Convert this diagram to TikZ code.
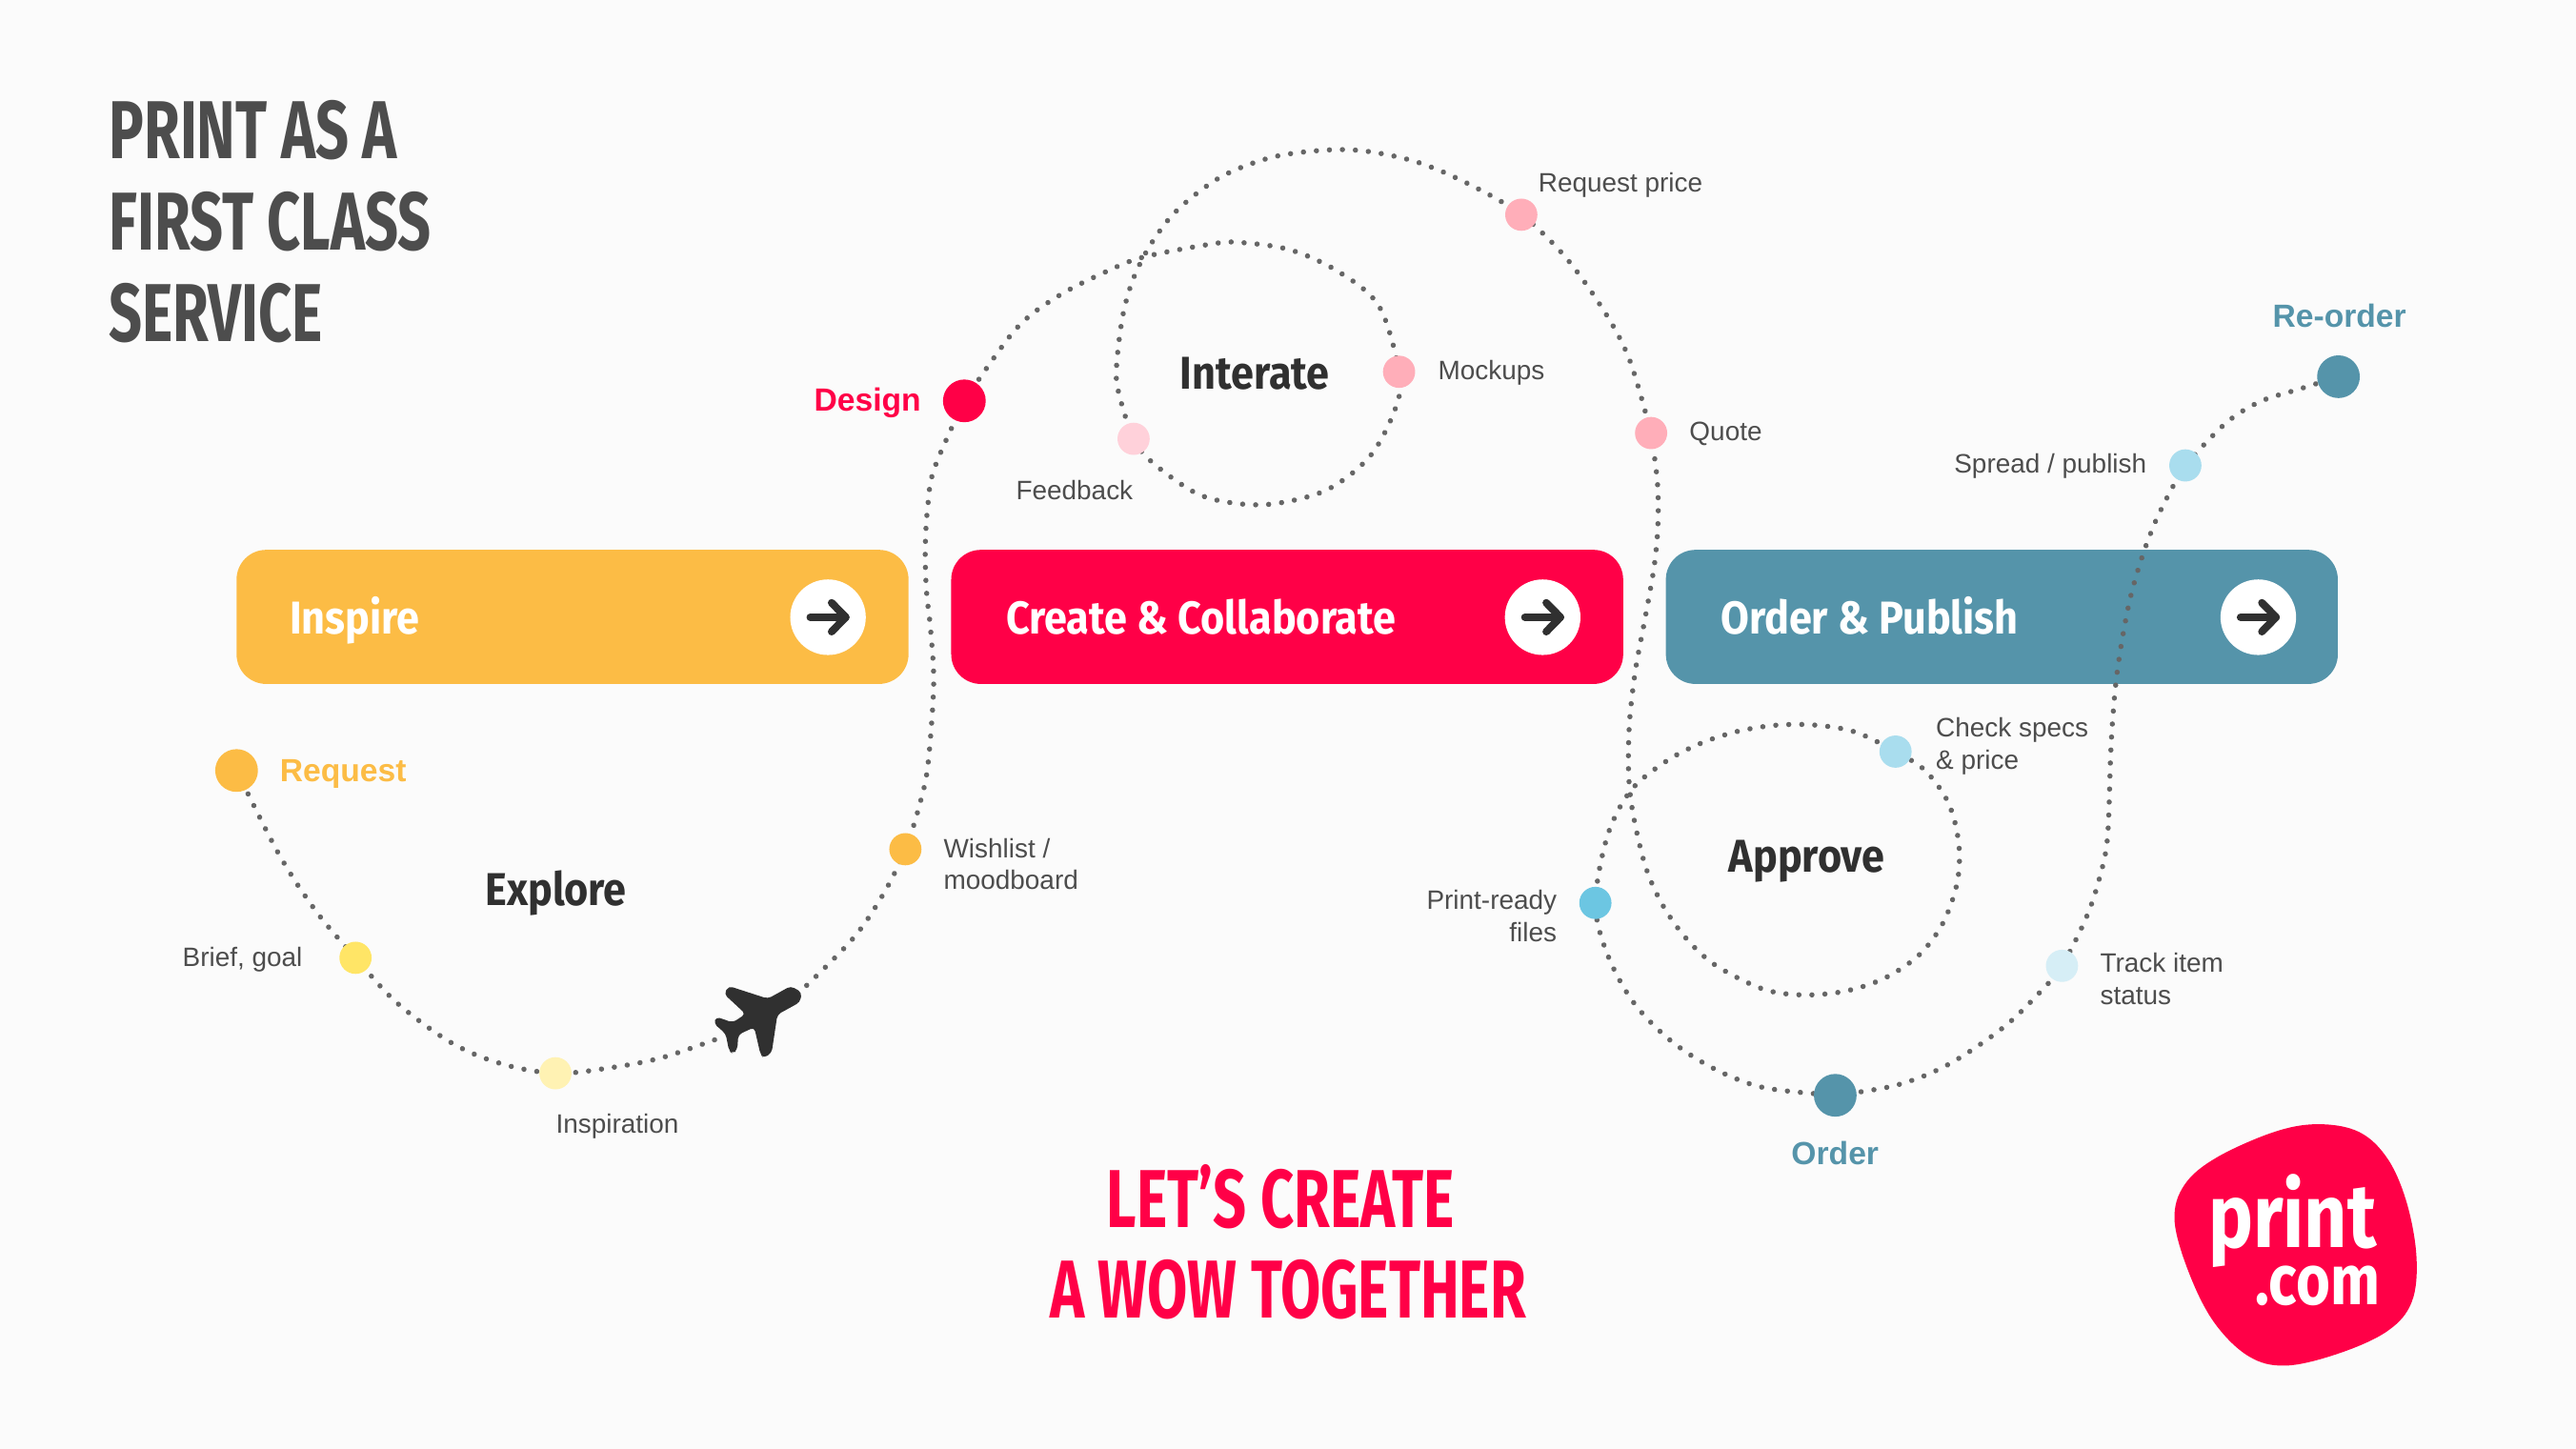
\documentclass[tikz,border=0pt]{standalone}
\usepackage{fontspec}
\usepackage{xcolor}
\usepackage{tikz}
\usetikzlibrary{backgrounds}
\setmainfont{Liberation Sans}
\newfontfamily\headfont[FakeStretch=0.895]{Fira Sans}
\newfontfamily\condfont[FakeStretch=0.71]{Fira Sans}
\newfontfamily\logofont[FakeStretch=0.83]{Fira Sans}
\definecolor{paper}{HTML}{FBFBFB}
\definecolor{inspirecol}{HTML}{FCBC45}
\definecolor{briefcol}{HTML}{FFE566}
\definecolor{ideacol}{HTML}{FFF2B3}
\definecolor{createcol}{HTML}{FF0047}
\definecolor{mockcol}{HTML}{FFAEB9}
\definecolor{feedcol}{HTML}{FFD1DA}
\definecolor{ordercol}{HTML}{5594AA}
\definecolor{specscol}{HTML}{A9DDEE}
\definecolor{filescol}{HTML}{6CC6E2}
\definecolor{trackcol}{HTML}{D6EEF6}
\definecolor{inkcol}{HTML}{303030}
\definecolor{labelcol}{HTML}{4D4D4D}
\definecolor{routecol}{HTML}{666666}
\tikzset{
    bigdot/.style={circle, inner sep=0pt, minimum size=13pt},
    smalldot/.style={circle, inner sep=0pt, minimum size=9.8pt},
    route/.style={routecol, line width=1.6pt, line cap=round, dash pattern=on 0.01pt off 3.95pt},
    phasebox/.style={rectangle, rounded corners=9pt, minimum width=204.5pt, minimum height=40.8pt, inner sep=0pt},
    phasename/.style={anchor=base west, inner sep=0pt, text=white, font=\headfont\bfseries\fontsize{14}{16}\selectfont},
    gobutton/.style={circle, fill=white, inner sep=0pt, minimum size=23pt},
    goarrow/.style={inkcol, line width=2.3pt, line cap=round, line join=round},
    smalltext/.style={inner sep=0pt, text=labelcol, align=left, font=\fontsize{8.1}{9.75}\selectfont},
    stagetext/.style={inner sep=0pt, font=\bfseries\fontsize{9.75}{12}\selectfont},
    looptext/.style={anchor=base west, inner sep=0pt, text=inkcol, font=\headfont\bfseries\fontsize{14}{16}\selectfont},
    bigtext/.style={inner sep=0pt, font=\condfont\bfseries\fontsize{25}{28}\selectfont},
}

\begin{document}
\begin{tikzpicture}[x=0.5pt, y=-0.5pt]
    \useasboundingbox (0,0) rectangle (1568,882);

    % route stops
    \node[bigdot, fill=inspirecol] (request) at (144,469) {};
    \node[smalldot, fill=briefcol] (brief) at (216.4,583) {};
    \node[smalldot, fill=ideacol] (inspiration) at (338.1,653.3) {};
    \node[smalldot, fill=inspirecol] (wishlist) at (551.1,516.9) {};
    \node[bigdot, fill=createcol] (design) at (587,244) {};
    \node[smalldot, fill=mockcol] (mockups) at (851.6,226.3) {};
    \node[smalldot, fill=feedcol] (feedback) at (690,267.1) {};
    \node[smalldot, fill=mockcol] (reqprice) at (926,130.7) {};
    \node[smalldot, fill=mockcol] (quote) at (1005,263.6) {};
    \node[smalldot, fill=specscol] (specs) at (1153.8,457.5) {};
    \node[smalldot, fill=filescol] (printready) at (971.1,549.6) {};
    \node[bigdot, fill=ordercol] (order) at (1117.1,666.7) {};
    \node[smalldot, fill=trackcol] (track) at (1255.1,587.9) {};
    \node[smalldot, fill=specscol] (spread) at (1330.2,283.3) {};
    \node[bigdot, fill=ordercol] (reorder) at (1423.4,229.3) {};
    \coordinate (planein) at (441.7,630.5);
    \coordinate (planeout) at (491,599.8);

    \begin{scope}[on background layer]
        \fill[paper] (0,0) rectangle (1568,882);
        \node[phasebox, fill=inspirecol] (inspire) at (348.5,375.5) {};
        \node[phasebox, fill=createcol] (create) at (783.5,375.5) {};
        \node[phasebox, fill=ordercol] (publish) at (1218.5,375.5) {};
        % dotted flight path
        \draw[route] plot[smooth, tension=0.55] coordinates {(request) (169.8,520) (192.4,554.7) (brief) (241.6,610.4) (274.9,634.8) (305.2,647.5) (inspiration) (371,650) (403.2,643.7) (planein)};
        \draw[route] plot[smooth, tension=0.55] coordinates {(planeout) (519.6,570.8) (538.1,543.5) (wishlist) (559.6,490.4) (564.8,465.8) (568.3,417.1) (566.5,383.8) (563.9,359.4) (563.2,333.9) (564.6,309.5) (568.7,285.1) (design)};
        \draw[route] plot[smooth, tension=0.55] coordinates {(design) (617.9,200.8) (643.8,180.4) (673.4,165.3) (696.3,156.4) (737,148.6) (753.6,147.5) (785,152) (814.6,165.3) (839.4,186.4) (mockups) (849.8,247.4) (834.2,277.3) (808,298) (775.8,306.6) (750.7,306.2) (727.7,300) (701.8,281.8) (feedback) (680.8,238.5) (679.7,221.8) (683.7,190.8) (690.7,167.5) (702.2,146) (717.4,127.1) (743.3,107.6) (774,95.8) (806.1,91.4) (831.3,92) (862.7,98.7) (894,112) (reqprice) (953.3,157) (977.3,190.8) (992.1,219.6) (quote)};
        \draw[route] plot[smooth, tension=0.55] coordinates {(quote) (1008.8,292.9) (1009.2,318.4) (1007,343.9) (1001.4,376) (995.5,407.8) (991.8,440.6) (991.4,472.5) (994.4,497.4) (1001.8,528) (1012.1,551) (1026.2,571) (1044.3,587.6) (1073.1,602) (1097.2,605.6) (1122.7,603.4) (1146.7,595.6) (1168.2,581.2) (1183,561.2) (1191.5,536.3) (1192.2,512.7) (1185.9,488.6) (1171.9,469.1) (specs) (1129.3,445.6) (1105.3,441.4) (1081.3,441.4) (1057.2,445.3) (1033.9,453) (1012.9,464.2) (992.5,481.4) (978.5,508.5) (printready) (978.1,580.1) (993.6,609.2) (1015.8,632.5) (1042.4,650) (1073.1,661.9) (order)};
        \draw[route] plot[smooth, tension=0.55] coordinates {(order) (1154.1,660.6) (1185.6,648.1) (1219.9,625) (1244,601.5) (track) (1269.9,558.5) (1278,534.3) (1282.8,509.9) (1284.7,460.4) (1286.1,436) (1288.4,411.5) (1292.1,387.1) (1296.9,363.1) (1303.7,339.5) (1312.4,316.5) (1323.4,294.7) (spread) (1354.9,257.5) (1375.8,244.4) (1399,237) (reorder)};
    \end{scope}

    % phase bars
    \node[phasename] (inspirename) at (176,386) {Inspire};
    \node[phasename] (createname) at (612,386) {Create \& Collaborate};
    \node[phasename] (publishname) at (1047,386) {Order \& Publish};
    \node[gobutton] (inspirego) at (504,375.7) {};
    \node[gobutton] (creatego) at (939,375.7) {};
    \node[gobutton] (publishgo) at (1374.6,375.7) {};
    \draw[goarrow] ([xshift=-5.4pt]inspirego.center) -- ([xshift=5.4pt]inspirego.center);
    \draw[goarrow] ([xshift=1.1pt,yshift=4.4pt]inspirego.center) -- ([xshift=5.4pt]inspirego.center) -- ([xshift=1.1pt,yshift=-4.4pt]inspirego.center);
    \draw[goarrow] ([xshift=-5.4pt]creatego.center) -- ([xshift=5.4pt]creatego.center);
    \draw[goarrow] ([xshift=1.1pt,yshift=4.4pt]creatego.center) -- ([xshift=5.4pt]creatego.center) -- ([xshift=1.1pt,yshift=-4.4pt]creatego.center);
    \draw[goarrow] ([xshift=-5.4pt]publishgo.center) -- ([xshift=5.4pt]publishgo.center);
    \draw[goarrow] ([xshift=1.1pt,yshift=4.4pt]publishgo.center) -- ([xshift=5.4pt]publishgo.center) -- ([xshift=1.1pt,yshift=-4.4pt]publishgo.center);

    % plane
    \fill[inkcol, rounded corners=1.2pt] (481.3,600.2) -- (488,604) -- (487,610) -- (473.2,617.6) -- (469.7,640.8) -- (464.9,644.1) -- (462.9,641.8) -- (459.1,625.3) -- (449.4,629.8) -- (448.8,638.9) -- (446.1,641.4) -- (443.8,639.8) -- (441.7,629.2) -- (434.5,623) -- (435.9,618.9) -- (446.1,622.4) -- (453.8,617.2) -- (440.7,605) -- (443.6,600.2) -- (467.4,607.9) -- cycle;

    % stage names
    \node[stagetext, anchor=base west, text=inspirecol] (requestname) at (170,475.5) {Request};
    \node[stagetext, anchor=base east, text=createcol] (designname) at (561,250.5) {Design};
    \node[stagetext, anchor=base, text=ordercol] (ordername) at (1117,709) {Order};
    \node[stagetext, anchor=base, text=ordercol] (reordername) at (1424,199) {Re-order};

    % small labels
    \node[smalltext, anchor=base east] (brieflabel) at (184.5,588) {Brief, goal};
    \node[smalltext, anchor=base west] (inspirationlabel) at (338,690) {Inspiration};
    \node[smalltext, anchor=base west] (wishlistlabel) at (574,541.5) {Wishlist /\\moodboard};
    \node[smalltext, anchor=base east] (feedbacklabel) at (690,304) {Feedback};
    \node[smalltext, anchor=base west] (mockupslabel) at (875,231) {Mockups};
    \node[smalltext, anchor=base west] (reqpricelabel) at (936,117) {Request price};
    \node[smalltext, anchor=base west] (quotelabel) at (1028,268) {Quote};
    \node[smalltext, anchor=base east] (spreadlabel) at (1307,288) {Spread / publish};
    \node[smalltext, anchor=base west] (specslabel) at (1178,468) {Check specs\\\& price};
    \node[smalltext, anchor=base east, align=right] (printreadylabel) at (948,573) {Print-ready\\files};
    \node[smalltext, anchor=base west] (tracklabel) at (1278,611.5) {Track item\\status};

    % loop names
    \node[looptext] (explorename) at (295,551) {Explore};
    \node[looptext] (interatename) at (718,237) {Interate};
    \node[looptext] (approvename) at (1052,531) {Approve};

    % titles
    \node[bigtext, anchor=base west, text=labelcol] (titlea) at (66,96.8) {PRINT AS A};
    \node[bigtext, anchor=base west, text=labelcol] (titleb) at (66,152.3) {FIRST CLASS};
    \node[bigtext, anchor=base west, text=labelcol] (titlec) at (66,207.8) {SERVICE};
    \node[bigtext, anchor=base, text=createcol] (wowa) at (779.5,747) {LET’S CREATE};
    \node[bigtext, anchor=base, text=createcol] (wowb) at (784,802) {A WOW TOGETHER};

    % logo
    \fill[createcol] plot[smooth cycle, tension=0.6] coordinates {(1411,684.3) (1436.1,689.1) (1453.5,705.6) (1465.1,732.6) (1470.9,765.5) (1468,792.5) (1453.5,810) (1424.5,823.5) (1391.7,831.2) (1368.5,825.4) (1347.2,804.2) (1331.8,773.2) (1323.6,742.3) (1329.8,721) (1349.2,704.6) (1384,689.1)};
    \node[anchor=base east, inner sep=0pt, text=white, font=\logofont\bfseries\fontsize{27.5}{30}\selectfont] (logoprint) at (1447,759.5) {print};
    \node[anchor=base east, inner sep=0pt, text=white, font=\logofont\bfseries\fontsize{21.5}{24}\selectfont] (logocom) at (1449,794) {.com};
\end{tikzpicture}
\end{document}
